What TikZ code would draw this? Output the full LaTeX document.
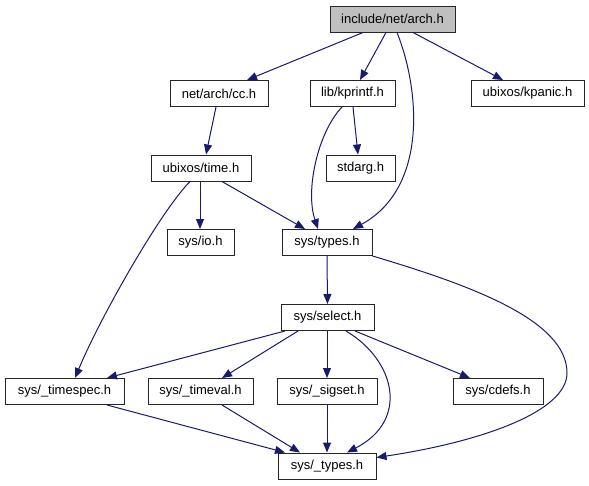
\documentclass[tikz,border=0pt]{standalone}
\usepackage{fontspec}
\setmainfont{Liberation Sans}
\usetikzlibrary{arrows.meta}
\definecolor{edgeblue}{HTML}{191970}
\definecolor{rootgray}{HTML}{BFBFBF}
\tikzset{
  file/.style={draw=black!85, line width=1pt, fill=white, inner sep=0pt,
    minimum height=26pt, font=\fontsize{13}{15}\selectfont},
  rootfile/.style={file, fill=rootgray},
  dep/.style={draw=edgeblue, line width=1pt,
    -{Triangle[length=10pt,width=8pt]}, fill=none},
}
\begin{document}
\begin{tikzpicture}[x=1pt,y=-1pt]
\useasboundingbox (0,0) rectangle (589,485);
% nodes
\node[rootfile, minimum width=125pt] (arch) at (392.5,19) {include/net/arch.h};
\node[file, minimum width=98pt] (cc) at (219,93.5) {net/arch/cc.h};
\node[file, minimum width=85pt] (kprintf) at (352.5,93.5) {lib/kprintf.h};
\node[file, minimum width=113pt] (kpanic) at (527.5,93.5) {ubixos/kpanic.h};
\node[file, minimum width=100pt] (time) at (201,168) {ubixos/time.h};
\node[file, minimum width=69pt] (stdarg) at (360.5,168) {stdarg.h};
\node[file, minimum width=67pt] (io) at (200.5,242.5) {sys/io.h};
\node[file, minimum width=90pt] (types) at (327,242.5) {sys/types.h};
\node[file, minimum width=93pt] (select) at (327.5,317.5) {sys/select.h};
\node[file, minimum width=119pt] (timespec) at (64.5,391.5) {sys/\_timespec.h};
\node[file, minimum width=105pt] (timeval) at (200.5,391.5) {sys/\_timeval.h};
\node[file, minimum width=100pt] (sigset) at (327,391.5) {sys/\_sigset.h};
\node[file, minimum width=90pt] (cdefs) at (498,391.5) {sys/cdefs.h};
\node[file, minimum width=98pt] (utypes) at (327,466) {sys/\_types.h};
% edges
\draw[dep] ([xshift=-29.5pt]arch.south) -- ([xshift=28pt]cc.north);
\draw[dep] ([xshift=-6.5pt]arch.south) -- ([xshift=7.5pt]kprintf.north);
\draw[dep] ([xshift=4.5pt]arch.south) .. controls (420,90) and (428,188) .. ([xshift=26pt]types.north);
\draw[dep] ([xshift=20.5pt]arch.south) -- ([xshift=-24.5pt]kpanic.north);
\draw[dep] ([xshift=-3pt]cc.south) -- ([xshift=5pt]time.north);
\draw[dep] ([xshift=0.5pt]kprintf.south) -- ([xshift=-2.5pt]stdarg.north);
\draw[dep] ([xshift=-10.5pt]kprintf.south) .. controls (318,132) and (305,190) .. ([xshift=-9pt]types.north);
\draw[dep] ([xshift=-1pt]time.south) -- ([xshift=-0.5pt]io.north);
\draw[dep] ([xshift=21pt]time.south) -- ([xshift=-22pt]types.north);
\draw[dep] ([xshift=-11pt]time.south) .. controls (160,212) and (100,318) .. ([xshift=10.5pt]timespec.north);
\draw[dep] (types.south) -- (select.north);
\draw[dep] (types.south east) .. controls (470,285) and (567,320) .. (567,373)
  .. controls (567,412) and (480,442) .. ([yshift=-5pt]utypes.north east);
\draw[dep] ([xshift=-42.5pt]select.south) -- ([xshift=42.5pt]timespec.north);
\draw[dep] ([xshift=-29.5pt]select.south) -- ([xshift=21.5pt]timeval.north);
\draw[dep] ([xshift=-0.5pt]select.south) -- (sigset.north);
\draw[dep] ([xshift=18.5pt]select.south) .. controls (395,360) and (410,420) .. ([xshift=20pt]utypes.north);
\draw[dep] ([xshift=27.5pt]select.south) -- ([xshift=-28pt]cdefs.north);
\draw[dep] ([xshift=42.5pt]timespec.south) -- ([xshift=-42pt]utypes.north);
\draw[dep] ([xshift=21.5pt]timeval.south) -- ([xshift=-27pt]utypes.north);
\draw[dep] (sigset.south) -- (utypes.north);
\end{tikzpicture}
\end{document}
